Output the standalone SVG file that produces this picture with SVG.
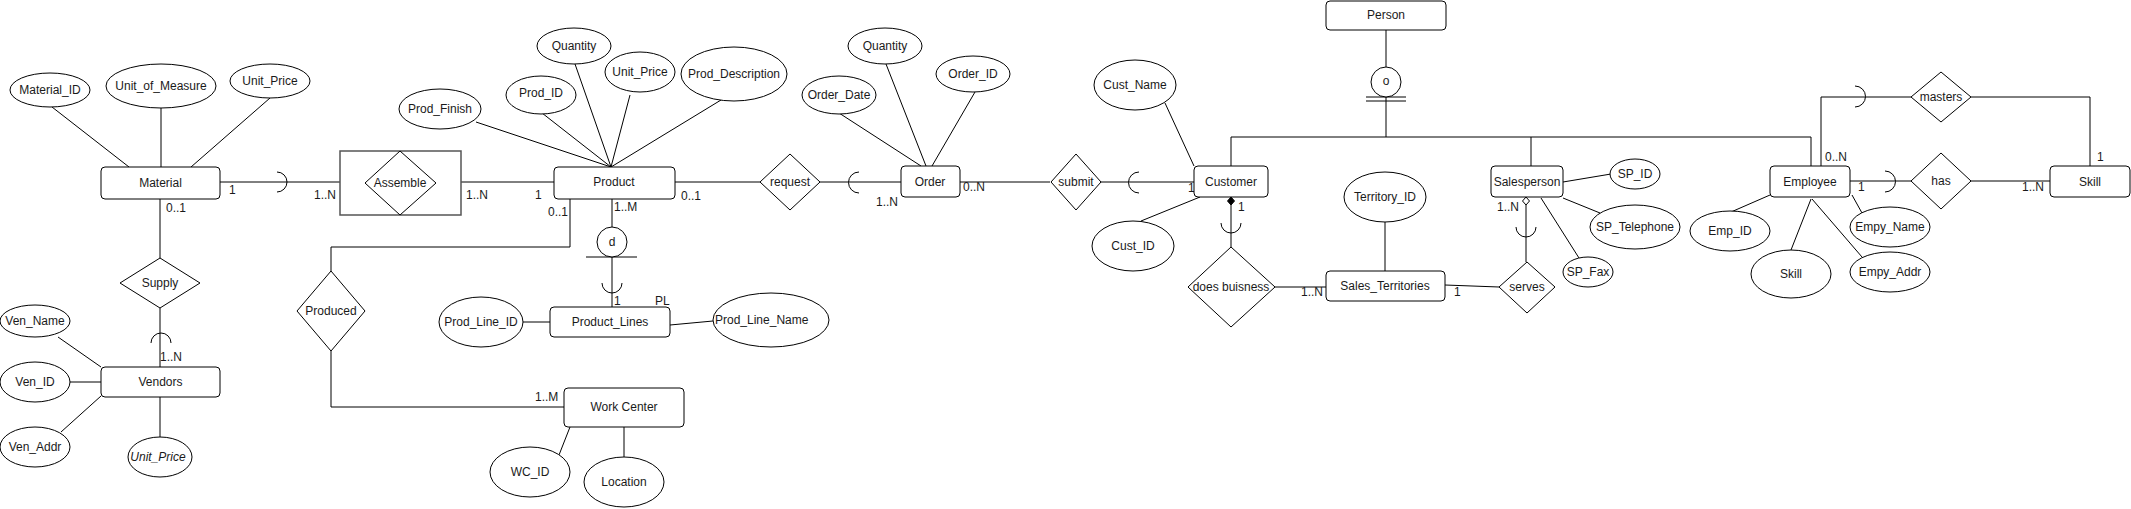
<svg xmlns="http://www.w3.org/2000/svg" width="2131" height="509" viewBox="0 0 2131 509">
<style>
text{font-family:"Liberation Sans",Arial,sans-serif;font-size:12px;fill:#1a1a1a}
.c{text-anchor:middle}
.ent{fill:#fff;stroke:#000;stroke-width:1}
.att{fill:#fff;stroke:#000;stroke-width:1}
.rel{fill:#fff;stroke:#000;stroke-width:1}
.ln{fill:none;stroke:#000;stroke-width:1}
.it{font-style:italic}
</style>
<rect width="2131" height="509" fill="#fff"/>
<g id="connectors">
<path class="ln" d="M52,107L129,167M161,108L161,167M270,98L191,167"/>
<path class="ln" d="M220,182H340"/>
<path class="ln" d="M277,172A10,10 0 0 1 277,192"/>
<path class="ln" d="M461,182H554"/>
<path class="ln" d="M160,199V258M160,308V367"/>
<path class="ln" d="M151,343A10,10 0 0 1 171,343"/>
<path class="ln" d="M58,337L101,367M70,382H101M61,432L101,396M160,397V437"/>
<path class="ln" d="M476,122L611,167M542,113L611,167M575,64L611,167M630,95L611,167M721,100L611,167"/>
<path class="ln" d="M570,199V247H331V271M331,351V407H564"/>
<path class="ln" d="M612,199V227M586,257H637M612,257V307"/>
<path class="ln" d="M602,283A10,10 0 0 0 622,283"/>
<path class="ln" d="M523,322H550M670,325L713,321M570,427L559,455M624,427V457"/>
<path class="ln" d="M675,182H760M820,182H901"/>
<path class="ln" d="M859,172A10.5,10.5 0 0 0 859,193"/>
<path class="ln" d="M839,113L921,166M886,64L926,166M975,92L932,166"/>
<path class="ln" d="M960,182H1050M1101,182H1194"/>
<path class="ln" d="M1139,172A10.5,10.5 0 0 0 1139,193"/>
<path class="ln" d="M1165,103L1194,166M1141,221L1200,197"/>
<path class="ln" d="M1231,205V247"/>
<path d="M1231,197L1234.5,201L1231,205L1227.5,201Z" fill="#000" stroke="#000"/>
<path class="ln" d="M1221,223A10,10 0 0 0 1241,223"/>
<path class="ln" d="M1275,287H1326M1385,222V271M1445,285L1499,287"/>
<path class="ln" d="M1526,205V262"/>
<path d="M1526,197L1529.5,201L1526,205L1522.5,201Z" fill="#fff" stroke="#000"/>
<path class="ln" d="M1516,227A10,10 0 0 0 1536,227"/>
<path class="ln" d="M1563,182L1611,174M1563,198L1600,213M1541,198L1579,258"/>
<path class="ln" d="M1386,30V67M1386,97V137M1366,97H1406M1366,101H1406M1231,137H1811M1231,137V166M1531,137V166M1811,137V166"/>
<path class="ln" d="M1821,166V97H1911M1971,97H2090V166"/>
<path class="ln" d="M1855,86A10.5,10.5 0 0 1 1855,107"/>
<path class="ln" d="M1850,181H1911M1971,181H2050"/>
<path class="ln" d="M1885,171A10.5,10.5 0 0 1 1885,192"/>
<path class="ln" d="M1770,195L1731,212M1811,199L1791,250M1852,195L1862,213M1812,199L1862,257"/>
<text x="229" y="194">1</text>
<text x="314" y="199">1..N</text>
<text x="166" y="212">0..1</text>
<text x="466" y="199">1..N</text>
<text x="535" y="199">1</text>
<text x="548" y="216">0..1</text>
<text x="614" y="211">1..M</text>
<text x="681" y="200">0..1</text>
<text x="876" y="206">1..N</text>
<text x="963" y="191">0..N</text>
<text x="1188" y="192">1</text>
<text x="1238" y="211">1</text>
<text x="1301" y="296">1..N</text>
<text x="1454" y="296">1</text>
<text x="1497" y="211">1..N</text>
<text x="160" y="361">1..N</text>
<text x="614" y="305">1</text>
<text x="655" y="305">PL</text>
<text x="535" y="401">1..M</text>
<text x="1825" y="161">0..N</text>
<text x="2097" y="161">1</text>
<text x="1858" y="191">1</text>
<text x="2022" y="191">1..N</text>
</g>
<g id="material"><rect class="ent" x="101" y="167" width="119" height="32" rx="4"/><text class="c" x="160.5" y="187">Material</text></g>
<g id="material_id"><ellipse class="att" cx="50" cy="90" rx="40" ry="17"/><text class="c" x="50" y="94">Material_ID</text></g>
<g id="unit_of_measure"><ellipse class="att" cx="161" cy="86" rx="55" ry="22"/><text class="c" x="161" y="90">Unit_of_Measure</text></g>
<g id="material_unit_price"><ellipse class="att" cx="270" cy="81" rx="40" ry="17"/><text class="c" x="270" y="85">Unit_Price</text></g>
<g id="assemble"><rect x="340" y="151" width="121" height="64" fill="#fff" stroke="#555" stroke-width="1.5"/><path class="rel" d="M400,151L436,183L400,215L365,183Z"/><text class="c" x="400" y="187">Assemble</text></g>
<g id="supply"><path class="rel" d="M160,258L200,283L160,308L120,283Z"/><text class="c" x="160" y="287">Supply</text></g>
<g id="vendors"><rect class="ent" x="101" y="367" width="119" height="30" rx="4"/><text class="c" x="160.5" y="386">Vendors</text></g>
<g id="ven_name"><ellipse class="att" cx="35" cy="321" rx="35" ry="16"/><text class="c" x="35" y="325">Ven_Name</text></g>
<g id="ven_id"><ellipse class="att" cx="35" cy="382" rx="35" ry="20"/><text class="c" x="35" y="386">Ven_ID</text></g>
<g id="ven_addr"><ellipse class="att" cx="35" cy="447" rx="35" ry="20"/><text class="c" x="35" y="451">Ven_Addr</text></g>
<g id="vendor_unit_price"><ellipse class="att" cx="160" cy="457" rx="32" ry="20"/><text class="c it" x="158" y="461">Unit_Price</text></g>
<g id="product"><rect class="ent" x="554" y="167" width="121" height="32" rx="4"/><text class="c" x="614" y="186">Product</text></g>
<g id="prod_finish"><ellipse class="att" cx="440" cy="109" rx="41" ry="20"/><text class="c" x="440" y="113">Prod_Finish</text></g>
<g id="prod_id"><ellipse class="att" cx="541" cy="95" rx="35" ry="19"/><text class="c" x="541" y="97">Prod_ID</text></g>
<g id="prod_quantity"><ellipse class="att" cx="574" cy="46" rx="37" ry="18"/><text class="c" x="574" y="50">Quantity</text></g>
<g id="prod_unit_price"><ellipse class="att" cx="640" cy="72" rx="35" ry="20"/><text class="c" x="640" y="76">Unit_Price</text></g>
<g id="prod_description"><ellipse class="att" cx="734" cy="74" rx="53" ry="27"/><text class="c" x="734" y="78">Prod_Description</text></g>
<g id="produced"><path class="rel" d="M331,271L365,311L331,351L297,311Z"/><text class="c" x="331" y="315">Produced</text></g>
<g id="disjoint"><circle class="rel" cx="612" cy="242" r="15"/><text class="c" x="612" y="246">d</text></g>
<g id="product_lines"><rect class="ent" x="550" y="307" width="120" height="30" rx="4"/><text class="c" x="610" y="326">Product_Lines</text></g>
<g id="prod_line_id"><ellipse class="att" cx="481" cy="322" rx="42" ry="25"/><text class="c" x="481" y="326">Prod_Line_ID</text></g>
<g id="prod_line_name"><ellipse class="att" cx="771" cy="320" rx="58" ry="27"/><text x="715" y="324">Prod_Line_Name</text></g>
<g id="work_center"><rect class="ent" x="564" y="388" width="120" height="39" rx="4"/><text class="c" x="624" y="411">Work Center</text></g>
<g id="wc_id"><ellipse class="att" cx="530" cy="472" rx="40" ry="25"/><text class="c" x="530" y="476">WC_ID</text></g>
<g id="location"><ellipse class="att" cx="624" cy="482" rx="40" ry="25"/><text class="c" x="624" y="486">Location</text></g>
<g id="request"><path class="rel" d="M790,154L820,182L790,210L760,182Z"/><text class="c" x="790" y="186">request</text></g>
<g id="order"><rect class="ent" x="901" y="166" width="59" height="31" rx="4"/><text class="c" x="930" y="186">Order</text></g>
<g id="order_quantity"><ellipse class="att" cx="885" cy="46" rx="37" ry="18"/><text class="c" x="885" y="50">Quantity</text></g>
<g id="order_date"><ellipse class="att" cx="839" cy="95" rx="37" ry="19"/><text class="c" x="839" y="99">Order_Date</text></g>
<g id="order_id"><ellipse class="att" cx="973" cy="74" rx="37" ry="18"/><text class="c" x="973" y="78">Order_ID</text></g>
<g id="submit"><path class="rel" d="M1076,154L1101,182L1076,210L1051,182Z"/><text class="c" x="1076" y="186">submit</text></g>
<g id="customer"><rect class="ent" x="1194" y="166" width="74" height="31" rx="4"/><text class="c" x="1231" y="186">Customer</text></g>
<g id="cust_name"><ellipse class="att" cx="1135" cy="85" rx="41" ry="25"/><text class="c" x="1135" y="89">Cust_Name</text></g>
<g id="cust_id"><ellipse class="att" cx="1133" cy="246" rx="41" ry="25"/><text class="c" x="1133" y="250">Cust_ID</text></g>
<g id="does_buisness"><path class="rel" d="M1231,247L1275,287L1231,327L1188,287Z"/><text class="c" x="1231" y="291">does buisness</text></g>
<g id="sales_territories"><rect class="ent" x="1326" y="271" width="119" height="30" rx="4"/><text class="c" x="1385" y="290">Sales_Territories</text></g>
<g id="territory_id"><ellipse class="att" cx="1385" cy="197" rx="41" ry="25"/><text class="c" x="1385" y="201">Territory_ID</text></g>
<g id="serves"><path class="rel" d="M1527,262L1555,287L1527,313L1499,287Z"/><text class="c" x="1527" y="291">serves</text></g>
<g id="salesperson"><rect class="ent" x="1491" y="166" width="72" height="31" rx="4"/><text class="c" x="1527" y="186">Salesperson</text></g>
<g id="sp_id"><ellipse class="att" cx="1635" cy="174" rx="25" ry="15"/><text class="c" x="1635" y="178">SP_ID</text></g>
<g id="sp_telephone"><ellipse class="att" cx="1635" cy="227" rx="45" ry="22"/><text class="c" x="1635" y="231">SP_Telephone</text></g>
<g id="sp_fax"><ellipse class="att" cx="1588" cy="272" rx="25" ry="15"/><text class="c" x="1588" y="276">SP_Fax</text></g>
<g id="person"><rect class="ent" x="1326" y="1" width="120" height="29" rx="4"/><text class="c" x="1386" y="19">Person</text></g>
<g id="overlap"><circle class="rel" cx="1386" cy="82" r="15"/><text class="c" x="1386" y="85">o</text></g>
<g id="employee"><rect class="ent" x="1770" y="166" width="80" height="31" rx="4"/><text class="c" x="1810" y="186">Employee</text></g>
<g id="emp_id"><ellipse class="att" cx="1730" cy="231" rx="40" ry="20"/><text class="c" x="1730" y="235">Emp_ID</text></g>
<g id="emp_skill"><ellipse class="att" cx="1791" cy="274" rx="40" ry="24"/><text class="c" x="1791" y="278">Skill</text></g>
<g id="empy_name"><ellipse class="att" cx="1890" cy="227" rx="40" ry="20"/><text class="c" x="1890" y="231">Empy_Name</text></g>
<g id="empy_addr"><ellipse class="att" cx="1890" cy="272" rx="40" ry="20"/><text class="c" x="1890" y="276">Empy_Addr</text></g>
<g id="masters"><path class="rel" d="M1941,72L1971,97L1941,122L1911,97Z"/><text class="c" x="1941" y="101">masters</text></g>
<g id="has"><path class="rel" d="M1941,153L1971,181L1941,209L1911,181Z"/><text class="c" x="1941" y="185">has</text></g>
<g id="skill"><rect class="ent" x="2050" y="166" width="80" height="31" rx="4"/><text class="c" x="2090" y="186">Skill</text></g>
</svg>
